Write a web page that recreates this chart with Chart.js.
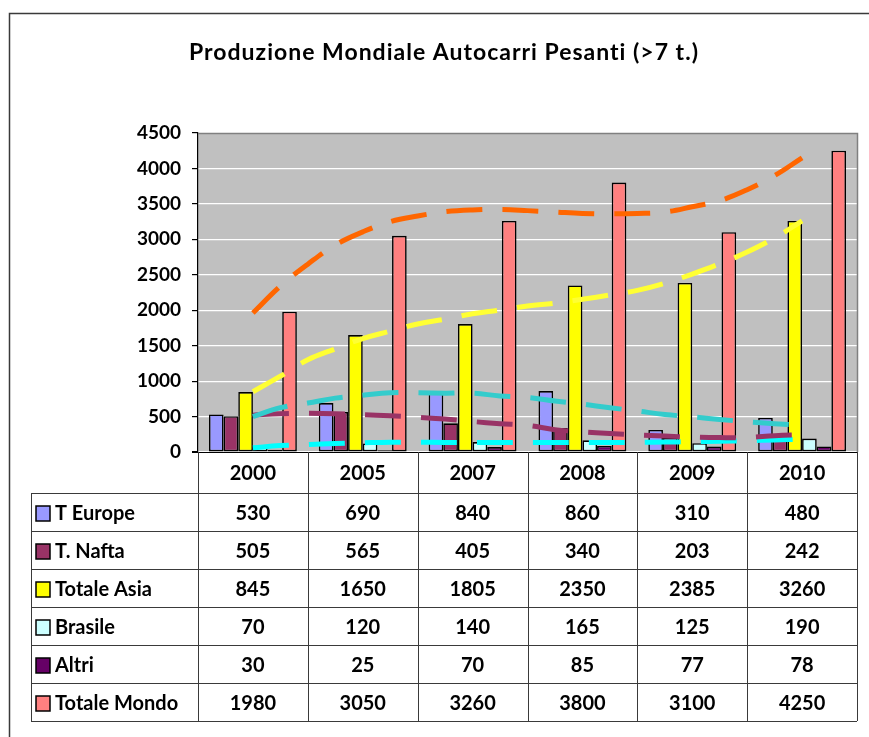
<!DOCTYPE html>
<html>
<head>
<meta charset="utf-8">
<script src="https://cdn.jsdelivr.net/npm/chart.js@4.4.1/dist/chart.umd.min.js"></script>
<style>
  html, body { margin: 0; padding: 0; background: #ffffff; }
  #wrap { width: 869px; height: 737px; position: relative; }
  #wrap canvas { position: absolute; left: 0; top: 0; }
  #trend { pointer-events: none; }
</style>
</head>
<body>
<div id="wrap">
  <canvas id="bars" width="869" height="737"></canvas>
  <canvas id="trend" width="869" height="737"></canvas>
</div>
<script>
// ---- data ----
const chartTitle = 'Produzione Mondiale Autocarri Pesanti (>7 t.)';
const years = ['2000', '2005', '2007', '2008', '2009', '2010'];
const seriesNames = ['T Europe', 'T. Nafta', 'Totale Asia', 'Brasile', 'Altri', 'Totale Mondo'];

const tEurope     = [530, 690, 840, 860, 310, 480];
const tNafta      = [505, 565, 405, 340, 203, 242];
const totaleAsia  = [845, 1650, 1805, 2350, 2385, 3260];
const brasile     = [70, 120, 140, 165, 125, 190];
const altri       = [30, 25, 70, 85, 77, 78];
const totaleMondo = [1980, 3050, 3260, 3800, 3100, 4250];

const yMin = 0;
const yMax = 4500;
const yStep = 500;

// trend curves, sampled at positions measured in category units (0 = 2000 ... 5 = 2010)
const trendPos     = [0, 0.25, 0.5, 0.75, 1, 1.25, 1.5, 1.75, 2, 2.25, 2.5, 2.75, 3, 3.25, 3.5, 3.75, 4, 4.25, 4.5, 4.75, 5];
const trendMondo   = [1960, 2340, 2650, 2920, 3105, 3250, 3330, 3390, 3415, 3420, 3405, 3385, 3365, 3360, 3365, 3385, 3460, 3545, 3700, 3900, 4150];
const trendAsia    = [850, 1070, 1300, 1455, 1600, 1705, 1805, 1875, 1950, 2003, 2060, 2100, 2155, 2215, 2280, 2380, 2510, 2655, 2820, 3020, 3260];
const trendEurope  = [500, 625, 690, 760, 800, 835, 835, 830, 830, 790, 770, 720, 675, 625, 578, 530, 495, 460, 425, 400, 375];
const trendNafta   = [520, 540, 545, 540, 525, 510, 490, 466, 430, 400, 375, 315, 285, 260, 240, 225, 210, 203, 205, 230, 245];
const trendBrasile = [60, 90, 105, 120, 130, 138, 138, 135, 135, 135, 135, 135, 135, 135, 135, 140, 145, 150, 160, 170, 180];

// ---- styles ----
const seriesValues = [tEurope, tNafta, totaleAsia, brasile, altri, totaleMondo];
const barColors = ['#9999FF', '#993366', '#FFFF00', '#CCFFFF', '#660066', '#FF8080'];
const trendSets = [
  { values: trendEurope,  color: '#33CCCC' },
  { values: trendNafta,   color: '#993366' },
  { values: trendBrasile, color: '#00FFFF' },
  { values: trendAsia,    color: '#FFFF33' },
  { values: trendMondo,   color: '#FF6600' }
];
const FONT = 'Lato, "Open Sans", "DejaVu Sans", sans-serif';
const plotPadding = { top: 133, right: 12, bottom: 285 };
const axisWidth = 198;

const barDatasets = seriesNames.map((name, i) => ({
  label: name,
  data: seriesValues[i],
  backgroundColor: barColors[i],
  borderColor: '#000000',
  borderWidth: 1.6,
  borderSkipped: false,
  categoryPercentage: 0.8,
  barPercentage: 1.0
}));

const trendDatasets = trendSets.map(t => ({
  data: trendPos.map((p, i) => ({ x: p, y: t.values[i] })),
  borderColor: t.color,
  borderWidth: 5,
  borderDash: [36, 20],
  borderCapStyle: 'butt',
  pointRadius: 0,
  tension: 0.4,
  fill: false
}));

// background, frame, plot area, title and data table
const decor = {
  id: 'decor',
  beforeDraw(chart) {
    const { ctx, chartArea: a } = chart;
    ctx.save();
    ctx.fillStyle = '#ffffff';
    ctx.fillRect(0, 0, chart.width, chart.height);
    ctx.strokeStyle = '#3a3a3a';
    ctx.lineWidth = 1.5;
    ctx.beginPath();
    ctx.moveTo(9.5, chart.height);
    ctx.lineTo(9.5, 13.5);
    ctx.lineTo(chart.width, 13.5);
    ctx.stroke();
    ctx.fillStyle = '#C0C0C0';
    ctx.fillRect(a.left, a.top, a.right - a.left, a.bottom - a.top);
    ctx.restore();
  },
  beforeDatasetsDraw(chart) {
    const { ctx, chartArea: a } = chart;
    ctx.save();
    ctx.strokeStyle = '#808080';
    ctx.lineWidth = 1.5;
    ctx.beginPath();
    ctx.moveTo(a.left, a.top + 0.5);
    ctx.lineTo(a.right + 0.5, a.top + 0.5);
    ctx.lineTo(a.right + 0.5, a.bottom);
    ctx.stroke();
    ctx.restore();
  },
  afterDraw(chart) {
    const { ctx, chartArea: a } = chart;
    const xs = chart.scales.x;
    ctx.save();

    // title
    ctx.fillStyle = '#000000';
    ctx.font = 'bold 23px ' + FONT;
    if ('letterSpacing' in ctx) ctx.letterSpacing = '1px';
    ctx.textAlign = 'center';
    ctx.textBaseline = 'middle';
    ctx.fillText(chartTitle, 444, 53);
    if ('letterSpacing' in ctx) ctx.letterSpacing = '0px';

    // x axis line
    ctx.strokeStyle = '#000000';
    ctx.lineWidth = 1.2;
    ctx.beginPath();
    ctx.moveTo(a.left - 6, a.bottom + 0.5);
    ctx.lineTo(a.right, a.bottom + 0.5);
    ctx.stroke();

    // data table
    const catW = (a.right - a.left) / years.length;
    const headerBottom = 493;
    const rowH = 38;
    const tableLeft = 31;
    const tableBottom = headerBottom + rowH * seriesNames.length;

    ctx.strokeStyle = '#3a3a3a';
    ctx.lineWidth = 1;
    ctx.beginPath();
    for (let r = 0; r <= seriesNames.length; r++) {
      const y = Math.round(headerBottom + r * rowH) + 0.5;
      ctx.moveTo(tableLeft, y);
      ctx.lineTo(a.right, y);
    }
    ctx.moveTo(tableLeft + 0.5, headerBottom);
    ctx.lineTo(tableLeft + 0.5, tableBottom);
    for (let c = 0; c <= years.length; c++) {
      const x = Math.round(a.left + c * catW) + 0.5;
      ctx.moveTo(x, a.bottom);
      ctx.lineTo(x, tableBottom);
    }
    ctx.stroke();

    ctx.font = 'bold 20px ' + FONT;
    ctx.fillStyle = '#000000';
    ctx.textAlign = 'center';
    ctx.textBaseline = 'middle';
    years.forEach((yr, c) => {
      ctx.fillText(yr, xs.getPixelForValue(c), (a.bottom + headerBottom) / 2 + 1);
    });

    seriesNames.forEach((name, r) => {
      const cy = headerBottom + r * rowH + rowH / 2 + 2;
      ctx.fillStyle = barColors[r];
      ctx.fillRect(36, cy - 8, 14, 15);
      ctx.strokeStyle = '#000000';
      ctx.lineWidth = 1.5;
      ctx.strokeRect(36, cy - 8, 14, 15);
      ctx.fillStyle = '#000000';
      ctx.textAlign = 'left';
      ctx.fillText(name, 55, cy);
      ctx.textAlign = 'center';
      seriesValues[r].forEach((v, c) => {
        ctx.fillText(String(v), xs.getPixelForValue(c), cy);
      });
    });
    ctx.restore();
  }
};

function draw() {
  // columns, axes and data table
  new Chart(document.getElementById('bars'), {
    type: 'bar',
    data: { labels: years, datasets: barDatasets },
    options: {
      responsive: false,
      animation: false,
      devicePixelRatio: 1,
      layout: { padding: { ...plotPadding, left: 0 } },
      plugins: { legend: { display: false }, tooltip: { enabled: false } },
      scales: {
        x: { type: 'category', display: false, offset: true, grid: { display: false } },
        y: {
          min: yMin,
          max: yMax,
          ticks: {
            stepSize: yStep,
            color: '#000000',
            padding: 11,
            font: { family: FONT, size: 19, weight: 'bold' },
            callback: v => String(v)
          },
          grid: { color: '#FFFFFF', tickColor: '#000000', tickLength: 6, lineWidth: 1.2 },
          border: { display: true, color: '#000000', width: 1.2 },
          afterFit(scale) { scale.width = axisWidth; }
        }
      }
    },
    plugins: [decor]
  });

  // trend curves over the columns, same plot area and value range
  new Chart(document.getElementById('trend'), {
    type: 'line',
    data: { datasets: trendDatasets },
    options: {
      responsive: false,
      animation: false,
      devicePixelRatio: 1,
      layout: { padding: { ...plotPadding, left: axisWidth } },
      plugins: { legend: { display: false }, tooltip: { enabled: false } },
      scales: {
        x: { type: 'linear', display: false, min: -0.5, max: 5.5 },
        y: { display: false, min: yMin, max: yMax }
      }
    }
  });
}

if (document.fonts && document.fonts.load) {
  document.fonts.load('bold 20px Lato').then(draw, draw);
} else {
  draw();
}
</script>
</body>
</html>
